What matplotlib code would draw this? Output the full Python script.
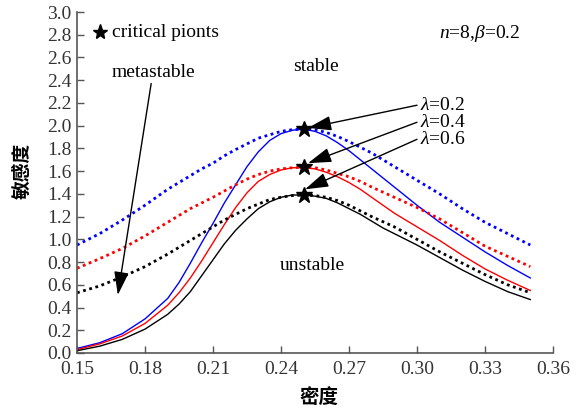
import matplotlib
matplotlib.use("Agg")
import matplotlib.pyplot as plt
from matplotlib import font_manager

_path = font_manager.findfont('Liberation Serif', fallback_to_default=False)
if 'Serif' not in _path:
    raise SystemExit('serif font not found: ' + _path)

plt.rcParams['font.family'] = ['Liberation Serif', 'Noto Sans CJK SC', 'DejaVu Sans']
plt.rcParams['mathtext.fontset'] = 'custom'
plt.rcParams['mathtext.it'] = 'Liberation Serif:italic'
plt.rcParams['mathtext.rm'] = 'Liberation Serif'

density = [0.15, 0.16, 0.17, 0.18, 0.19, 0.195, 0.20, 0.205, 0.21, 0.215, 0.22,
           0.225, 0.23, 0.235, 0.24, 0.245, 0.25, 0.255, 0.26, 0.265, 0.27,
           0.275, 0.28, 0.285, 0.29, 0.30, 0.31, 0.32, 0.33, 0.34, 0.35]

solid_02 = [0.04, 0.09, 0.17, 0.30, 0.48, 0.62, 0.79, 0.97, 1.14, 1.32, 1.48,
            1.64, 1.77, 1.87, 1.93, 1.96, 1.97, 1.95, 1.91, 1.85, 1.78,
            1.70, 1.62, 1.54, 1.46, 1.30, 1.15, 1.02, 0.89, 0.77, 0.66]
solid_04 = [0.03, 0.08, 0.15, 0.26, 0.42, 0.53, 0.66, 0.81, 0.97, 1.13, 1.28,
            1.41, 1.51, 1.57, 1.61, 1.63, 1.63, 1.62, 1.59, 1.55, 1.50,
            1.44, 1.37, 1.30, 1.23, 1.11, 0.99, 0.86, 0.74, 0.64, 0.55]
solid_06 = [0.02, 0.06, 0.12, 0.21, 0.34, 0.43, 0.54, 0.68, 0.82, 0.96, 1.08,
            1.18, 1.27, 1.33, 1.37, 1.39, 1.39, 1.38, 1.36, 1.32, 1.27,
            1.22, 1.16, 1.10, 1.05, 0.95, 0.84, 0.73, 0.63, 0.54, 0.47]

dotted_02 = [0.95, 1.05, 1.17, 1.30, 1.44, 1.50, 1.56, 1.62, 1.67, 1.735, 1.79,
             1.84, 1.89, 1.92, 1.95, 1.965, 1.97, 1.965, 1.94, 1.905, 1.86,
             1.81, 1.76, 1.70, 1.64, 1.52, 1.40, 1.27, 1.15, 1.05, 0.95]
dotted_04 = [0.745, 0.83, 0.92, 1.03, 1.15, 1.21, 1.27, 1.32, 1.37, 1.425, 1.48,
             1.53, 1.57, 1.60, 1.62, 1.63, 1.635, 1.63, 1.61, 1.58, 1.55,
             1.51, 1.46, 1.415, 1.37, 1.28, 1.18, 1.06, 0.94, 0.85, 0.76]
dotted_06 = [0.53, 0.59, 0.67, 0.76, 0.87, 0.93, 0.99, 1.05, 1.11, 1.17, 1.22,
             1.27, 1.31, 1.35, 1.37, 1.385, 1.39, 1.385, 1.37, 1.34, 1.30,
             1.25, 1.20, 1.155, 1.11, 1.00, 0.89, 0.79, 0.69, 0.60, 0.53]

critical_x = [0.25, 0.25, 0.25]
critical_y = [1.97, 1.64, 1.39]
lambda_labels = [r'$\lambda$=0.2', r'$\lambda$=0.4', r'$\lambda$=0.6']

xticks = [0.15, 0.18, 0.21, 0.24, 0.27, 0.30, 0.33, 0.36]
yticks = [0.0, 0.2, 0.4, 0.6, 0.8, 1.0, 1.2, 1.4, 1.6, 1.8, 2.0, 2.2, 2.4, 2.6, 2.8, 3.0]

fig = plt.figure(figsize=(5.8, 4.13), dpi=100)
ax = fig.add_axes([0.1328, 0.1453, 0.8206, 0.8256])

ax.plot(density, solid_02, color='blue', lw=1.0)
ax.plot(density, solid_04, color='red', lw=1.0)
ax.plot(density, solid_06, color='black', lw=1.0)
dot = (0, (1, 1.3))
ax.plot(density, dotted_02, color='blue', lw=2.0, linestyle=dot)
ax.plot(density, dotted_04, color='red', lw=2.0, linestyle=dot)
ax.plot(density, dotted_06, color='black', lw=2.0, linestyle=dot)

ax.plot(critical_x, critical_y, linestyle='none', marker='*', color='black', markersize=12, zorder=5)

ax.set_xlim(0.15, 0.36)
ax.set_ylim(0.0, 3.0)
ax.set_xticks(xticks)
ax.set_xticklabels([f'{v:.2f}' for v in xticks])
ax.set_yticks(yticks)
ax.set_yticklabels([f'{v:.1f}' for v in yticks])
for s in ['top', 'right']:
    ax.spines[s].set_visible(False)
for s in ['left', 'bottom']:
    ax.spines[s].set_color('#555555')
    ax.spines[s].set_linewidth(1.2)
ax.tick_params(direction='in', length=5, width=1.0, color='#555555', labelsize=14, labelcolor='#333333')
ax.tick_params(axis='x', pad=6)
ax.tick_params(axis='y', pad=4)

ax.set_xlabel('密度', fontsize=14, fontweight='bold', family=['Noto Sans CJK SC'])
ax.set_ylabel('敏感度', fontsize=13.5, fontweight='bold', family=['Noto Sans CJK SC'])
ax.xaxis.set_label_coords(0.508, -0.104)
ax.yaxis.set_label_coords(-0.095, 0.534)

# legend-like note
ax.plot([0.1601], [2.82], marker='*', color='black', markersize=11, linestyle='none')
ax.text(0.1655, 2.82, 'critical pionts', fontsize=14, va='center', ha='left')

ax.text(0.3277, 2.81, '$n$=8,$β$=0.2', fontsize=14, va='center', ha='center')
ax.text(0.2554, 2.52, 'stable', fontsize=14, va='center', ha='center')
ax.text(0.2537, 0.77, 'unstable', fontsize=14, va='center', ha='center')

arrow = dict(arrowstyle='-|>,head_length=0.8,head_width=0.25', color='black', lw=1.0,
             mutation_scale=18, shrinkA=0, shrinkB=0)
ax.annotate('metastable', xy=(0.168, 0.51), xytext=(0.1835, 2.47),
            fontsize=14, ha='center', va='center', arrowprops=arrow)

label_y = [2.18, 2.03, 1.88]
tips = [(0.2519, 1.98), (0.2519, 1.67), (0.2506, 1.44)]
for lab, ly, tip in zip(lambda_labels, label_y, tips):
    ax.annotate('', xy=tip, xytext=(0.300, ly), arrowprops=arrow)
    ax.text(0.3013, ly, lab, fontsize=14, va='center', ha='left')

fig.savefig('out.png', dpi=100)
